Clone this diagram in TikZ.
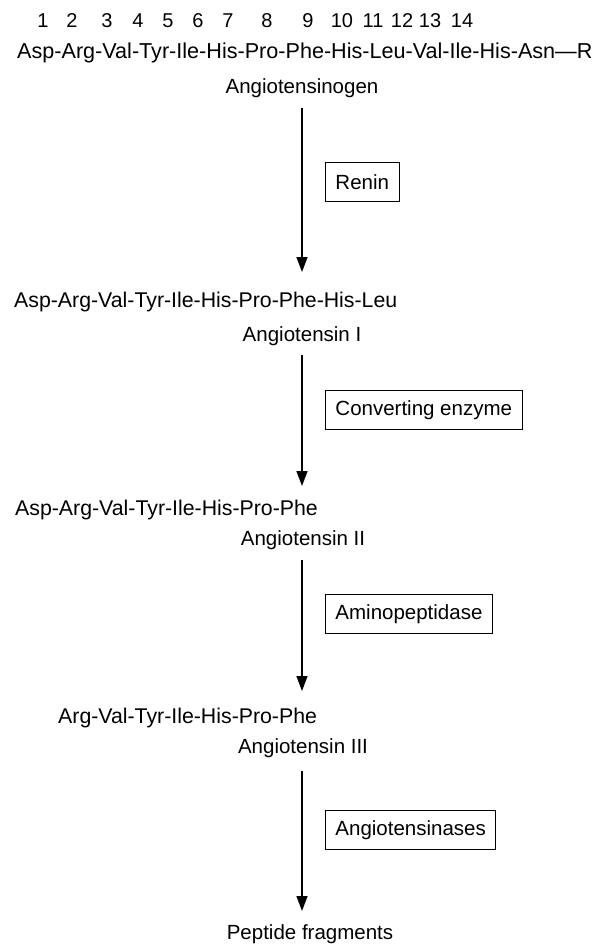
\documentclass[tikz,border=0pt]{standalone}
\usepackage{fontspec}
\setmainfont{Liberation Sans}
\usetikzlibrary{arrows.meta}
\begin{document}
\begin{tikzpicture}[x=1pt,y=-1pt,
  seq/.style={anchor=west,inner sep=0pt,font=\fontsize{21.3}{24}\selectfont},
  lbl/.style={inner sep=0pt,font=\fontsize{20.5}{24}\selectfont},
  num/.style={inner sep=0pt,font=\fontsize{20}{24}\selectfont},
  enz/.style={draw,line width=0.9pt,anchor=west,inner xsep=10pt,minimum height=39pt,font=\fontsize{20.5}{24}\selectfont},
  arr/.style={line width=1.4pt,-{Triangle[length=15pt,width=11pt]}}]
\useasboundingbox (0,0) rectangle (600,946);
% residue numbers
\foreach \n/\x in {1/43,2/72,3/107,4/138,5/168,6/198,7/228,8/267,9/308,10/342,11/373,12/402,13/430,14/462}
  \node[num] (n\n) at (\x,21) {\n};
% sequences and names
\node[seq,font=\fontsize{21.6}{24}\selectfont] (s0) at (17,53) {Asp-Arg-Val-Tyr-Ile-His-Pro-Phe-His-Leu-Val-Ile-His-Asn\textemdash R};
\node[lbl] (ogen) at (302,88) {Angiotensinogen};
\node[seq] (s1) at (14,302) {Asp-Arg-Val-Tyr-Ile-His-Pro-Phe-His-Leu};
\node[lbl] (ang1) at (302,336) {Angiotensin I};
\node[seq] (s2) at (15,510) {Asp-Arg-Val-Tyr-Ile-His-Pro-Phe};
\node[lbl] (ang2) at (303,540) {Angiotensin II};
\node[seq] (s3) at (58,718) {Arg-Val-Tyr-Ile-His-Pro-Phe};
\node[lbl] (ang3) at (303,748) {Angiotensin III};
\node[lbl] (frag) at (310,934) {Peptide fragments};
% enzymes
\node[enz] (renin) at (325,182) {Renin};
\node[enz] (conv) at (325,410) {Converting enzyme};
\node[enz] (amino) at (325,614) {Aminopeptidase};
\node[enz] (tensinase) at (325,830) {Angiotensinases};
% arrow ends
\coordinate (a1s) at (302,108); \coordinate (a1e) at (302,272);
\coordinate (a2s) at (302,355); \coordinate (a2e) at (302,486);
\coordinate (a3s) at (302,560); \coordinate (a3e) at (302,691);
\coordinate (a4s) at (302,771); \coordinate (a4e) at (302,911);
\draw[arr] (a1s) -- (a1e);
\draw[arr] (a2s) -- (a2e);
\draw[arr] (a3s) -- (a3e);
\draw[arr] (a4s) -- (a4e);
\end{tikzpicture}
\end{document}
